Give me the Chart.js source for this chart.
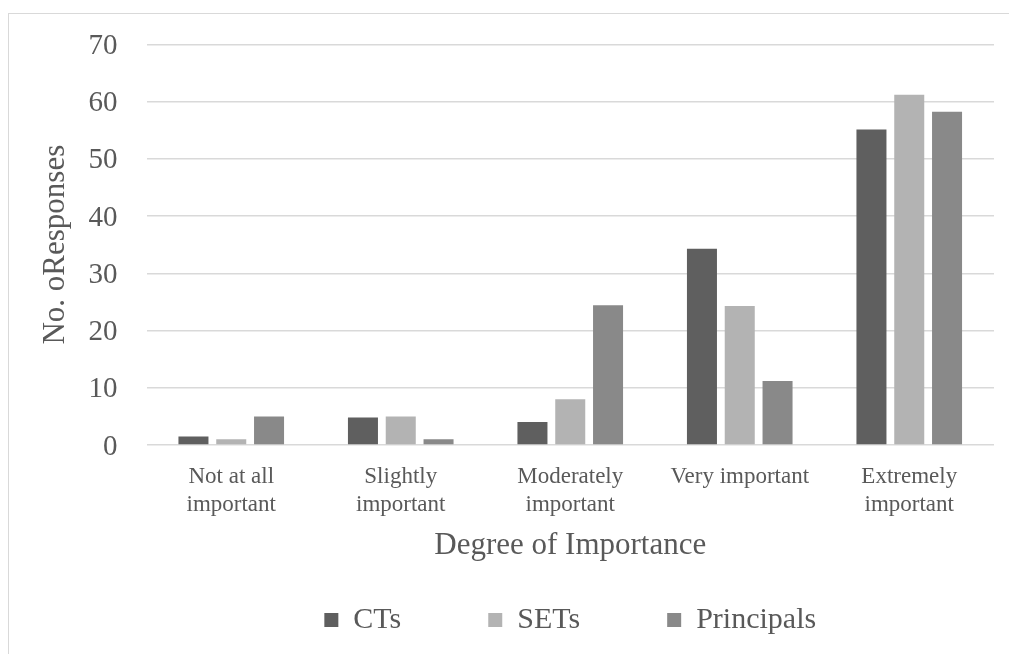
<!DOCTYPE html>
<html>
<head>
<meta charset="utf-8">
<script src="https://cdn.jsdelivr.net/npm/chart.js@4/dist/chart.umd.min.js"></script>
<style>
  html, body { margin: 0; padding: 0; background: #ffffff; overflow: hidden; }
  #frame {
    position: absolute; left: 8px; top: 13px; width: 1001px; height: 641px;
    border-left: 1px solid #d9d9d9; border-top: 1px solid #d9d9d9; box-sizing: border-box;
  }
  #chart { display: block; }
</style>
</head>
<body>
<div id="frame"><canvas id="chart" width="1000" height="640"></canvas></div>
<script>
// Survey responses by degree of importance
const categories = [
  ['Not at all', 'important'],
  ['Slightly', 'important'],
  ['Moderately', 'important'],
  'Very important',
  ['Extremely', 'important']
];
const seriesNames = ['CTs', 'SETs', 'Principals'];
const ctValues = [1.5, 4.8, 4.0, 34.3, 55.1];
const setValues = [1.0, 5.0, 8.0, 24.3, 61.2];
const principalValues = [5.0, 1.0, 24.4, 11.2, 58.2];
const yTicks = [0, 10, 20, 30, 40, 50, 60, 70];

const textColor = '#595959';
const serif = '"Liberation Serif", "Times New Roman", serif';
const colors = ['#5f5f5f', '#b3b3b3', '#898989'];

const makeSet = (label, data, color) => ({
  label, data,
  backgroundColor: color,
  borderWidth: 0,
  categoryPercentage: 0.669,
  barPercentage: 0.794
});

new Chart(document.getElementById('chart'), {
  type: 'bar',
  data: {
    labels: categories,
    datasets: [
      makeSet(seriesNames[0], ctValues, colors[0]),
      makeSet(seriesNames[1], setValues, colors[1]),
      makeSet(seriesNames[2], principalValues, colors[2])
    ]
  },
  options: {
    responsive: false,
    animation: false,
    devicePixelRatio: 1,
    layout: { padding: { left: 28.4, right: 15, top: 30.3, bottom: 9 } },
    plugins: {
      tooltip: { enabled: false },
      legend: {
        position: 'bottom',
        fullSize: false,
        labels: {
          boxWidth: 14,
          boxHeight: 14,
          padding: 87,
          color: textColor,
          font: { family: serif, size: 30 }
        }
      }
    },
    scales: {
      x: {
        grid: { display: false, drawTicks: false },
        border: { display: false },
        ticks: {
          color: textColor,
          padding: 18,
          maxRotation: 0,
          autoSkip: false,
          font: { family: serif, size: 23, lineHeight: 1.217 }
        },
        title: {
          display: true,
          text: 'Degree of Importance',
          color: textColor,
          font: { family: serif, size: 31, lineHeight: 1.2 },
          padding: { top: 0, bottom: -46 }
        },
        afterFit: (scale) => { scale.height = 73; }
      },
      y: {
        min: 0,
        max: 70,
        afterBuildTicks: (scale) => { scale.ticks = yTicks.map(v => ({ value: v })); },
        grid: { color: '#d9d9d9', lineWidth: 1.5, drawTicks: false },
        border: { display: false },
        ticks: {
          color: textColor,
          padding: 29,
          labelOffset: 2,
          // single-line labels: a tight line height keeps the top edge of the plot free
          font: { family: serif, size: 29, lineHeight: 0.05 }
        },
        title: {
          display: true,
          text: 'No. oResponses',
          color: textColor,
          font: { family: serif, size: 31, lineHeight: 1.2 },
          padding: 0
        },
        afterFit: (scale) => { scale.width = 109.1; }
      }
    }
  }
});
</script>
</body>
</html>
